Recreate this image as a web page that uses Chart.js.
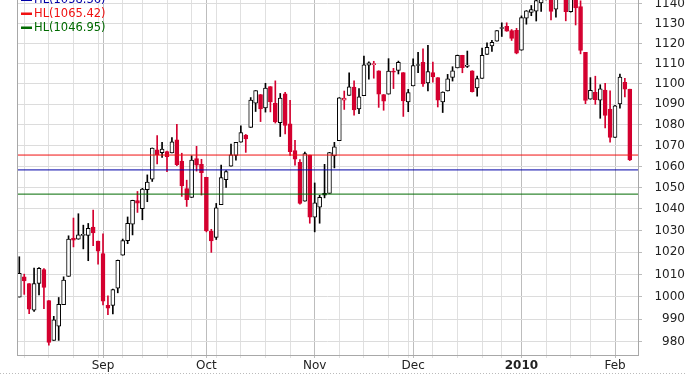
<!DOCTYPE html>
<html>
<head>
<meta charset="utf-8">
<script src="https://cdn.jsdelivr.net/npm/chart.js@4"></script>
<style>
  body { margin: 0; background: #fff; }
  canvas { display: block; }
</style>
</head>
<body>
<canvas id="chart" width="685" height="375"></canvas>
<script>
// daily candles, Aug 7 2009 .. Feb 4 2010
const dates = [
  '2009-08-07','2009-08-10','2009-08-11','2009-08-12','2009-08-13','2009-08-14',
  '2009-08-17','2009-08-18','2009-08-19','2009-08-20','2009-08-21',
  '2009-08-24','2009-08-25','2009-08-26','2009-08-27','2009-08-28','2009-08-31',
  '2009-09-01','2009-09-02','2009-09-03','2009-09-04',
  '2009-09-08','2009-09-09','2009-09-10','2009-09-11',
  '2009-09-14','2009-09-15','2009-09-16','2009-09-17','2009-09-18',
  '2009-09-21','2009-09-22','2009-09-23','2009-09-24','2009-09-25',
  '2009-09-28','2009-09-29','2009-09-30',
  '2009-10-01','2009-10-02',
  '2009-10-05','2009-10-06','2009-10-07','2009-10-08','2009-10-09',
  '2009-10-12','2009-10-13','2009-10-14','2009-10-15','2009-10-16',
  '2009-10-19','2009-10-20','2009-10-21','2009-10-22','2009-10-23',
  '2009-10-26','2009-10-27','2009-10-28','2009-10-29','2009-10-30',
  '2009-11-02','2009-11-03','2009-11-04','2009-11-05','2009-11-06',
  '2009-11-09','2009-11-10','2009-11-11','2009-11-12','2009-11-13',
  '2009-11-16','2009-11-17','2009-11-18','2009-11-19','2009-11-20',
  '2009-11-23','2009-11-24','2009-11-25','2009-11-27','2009-11-30',
  '2009-12-01','2009-12-02','2009-12-03','2009-12-04',
  '2009-12-07','2009-12-08','2009-12-09','2009-12-10','2009-12-11',
  '2009-12-14','2009-12-15','2009-12-16','2009-12-17','2009-12-18',
  '2009-12-21','2009-12-22','2009-12-23','2009-12-24',
  '2009-12-28','2009-12-29','2009-12-30','2009-12-31',
  '2010-01-04','2010-01-05','2010-01-06','2010-01-07','2010-01-08',
  '2010-01-11','2010-01-12','2010-01-13','2010-01-14','2010-01-15',
  '2010-01-19','2010-01-20','2010-01-21','2010-01-22',
  '2010-01-25','2010-01-26','2010-01-27','2010-01-28','2010-01-29',
  '2010-02-01','2010-02-02','2010-02-03','2010-02-04'
];

const opens = [
  999.8, 1008.9, 1005.8, 994.0, 1005.9, 1012.2, 998.2, 980.6, 986.9, 996.4, 1009.1, 1026.6, 1026.0, 1027.8, 1027.8, 1031.6, 1025.2,
  1019.5, 996.1, 996.1, 1003.8, 1018.7, 1025.4, 1033.0, 1043.9, 1040.2, 1049.0, 1054.0, 1067.9, 1066.6, 1067.1, 1066.4, 1072.7, 1062.6, 1049.5, 1045.4, 1063.7, 1061.0,
  1054.9, 1029.7, 1026.9, 1042.0, 1053.7, 1060.1, 1065.3, 1071.6, 1075.0, 1078.7, 1090.4, 1094.7, 1088.2, 1098.6, 1090.4, 1081.0, 1095.0, 1080.4, 1067.5, 1061.9, 1043.7, 1065.4,
  1036.2, 1040.9, 1047.3, 1047.3, 1065.0, 1072.3, 1091.9, 1094.2, 1098.3, 1087.6, 1094.1, 1109.2, 1109.4, 1106.4, 1094.7, 1094.9, 1105.8, 1106.5, 1105.5, 1091.1,
  1098.9, 1109.0, 1110.6, 1100.4, 1105.5, 1103.0, 1091.1, 1096.4, 1103.1, 1107.8, 1114.1, 1108.6, 1106.4, 1097.9, 1102.6, 1114.5, 1118.8, 1121.1, 1127.5, 1128.6, 1126.5, 1126.6,
  1116.6, 1132.7, 1135.7, 1136.3, 1140.5, 1146.0, 1143.8, 1137.3, 1145.7, 1147.7, 1136.0, 1148.0, 1138.7, 1115.5, 1092.4, 1095.8, 1091.9, 1096.9, 1087.6,
  1073.9, 1090.1, 1100.7, 1097.3
];
const highs = [
  1018.0, 1010.1, 1005.8, 1012.8, 1013.1, 1012.6, 998.2, 991.2, 999.6, 1008.9, 1027.6, 1035.8, 1037.8, 1032.5, 1033.3, 1039.5, 1025.2,
  1028.5, 1000.3, 1003.4, 1016.5, 1026.1, 1036.3, 1044.1, 1048.2, 1049.7, 1056.0, 1068.8, 1074.8, 1071.5, 1067.3, 1073.8, 1080.2, 1066.3, 1053.5, 1065.1, 1069.6, 1063.4,
  1054.9, 1030.6, 1042.6, 1060.6, 1058.0, 1070.7, 1071.5, 1079.5, 1075.3, 1093.2, 1096.6, 1094.7, 1100.2, 1098.6, 1101.4, 1095.2, 1095.8, 1091.8, 1072.5, 1063.3, 1066.8, 1065.4,
  1052.2, 1046.4, 1061.0, 1066.7, 1071.5, 1093.2, 1096.4, 1105.4, 1101.4, 1097.6, 1113.7, 1110.8, 1111.1, 1106.4, 1094.7, 1112.4, 1107.6, 1111.2, 1105.5, 1097.2,
  1112.3, 1115.6, 1117.3, 1119.1, 1110.7, 1103.0, 1096.0, 1104.6, 1108.4, 1114.2, 1114.1, 1116.2, 1106.4, 1103.7, 1117.7, 1120.3, 1121.6, 1126.5, 1130.4, 1130.4, 1127.0, 1127.6,
  1133.9, 1136.6, 1139.2, 1142.5, 1145.4, 1149.7, 1143.8, 1148.4, 1150.4, 1147.8, 1150.5, 1148.0, 1141.6, 1115.5, 1103.0, 1103.7, 1099.5, 1100.2, 1096.5,
  1089.4, 1104.7, 1102.7, 1097.3
];
const lows = [
  999.8, 1001.0, 992.4, 993.4, 1000.8, 994.6, 978.5, 980.6, 980.6, 996.4, 1009.1, 1022.5, 1026.0, 1021.6, 1016.2, 1023.1, 1014.6,
  996.3, 992.0, 992.3, 1001.7, 1018.7, 1024.0, 1028.0, 1038.4, 1035.0, 1043.4, 1052.9, 1061.2, 1064.3, 1057.5, 1066.4, 1060.4, 1045.9, 1041.2, 1045.4, 1057.8, 1046.5,
  1029.4, 1020.0, 1025.9, 1042.0, 1050.1, 1060.1, 1063.0, 1071.6, 1066.7, 1078.7, 1086.4, 1081.5, 1086.1, 1086.2, 1080.8, 1074.3, 1075.5, 1065.2, 1060.6, 1042.2, 1043.7, 1033.4,
  1029.4, 1033.4, 1045.2, 1047.3, 1059.3, 1072.3, 1087.4, 1094.2, 1084.6, 1085.3, 1094.1, 1102.2, 1102.7, 1088.4, 1087.0, 1094.9, 1097.6, 1104.8, 1084.0, 1086.3,
  1098.9, 1105.4, 1098.7, 1096.5, 1100.8, 1088.6, 1085.9, 1096.4, 1101.3, 1107.8, 1105.4, 1108.0, 1095.9, 1093.9, 1102.6, 1114.5, 1116.0, 1121.1, 1123.5, 1126.1, 1121.5, 1114.8,
  1116.6, 1129.7, 1134.0, 1131.3, 1136.2, 1142.0, 1131.8, 1133.2, 1143.8, 1131.4, 1135.8, 1129.3, 1114.8, 1090.2, 1092.4, 1089.9, 1083.1, 1078.5, 1071.6,
  1073.9, 1088.0, 1093.5, 1062.8
];
const closes = [
  1010.5, 1007.1, 994.4, 1005.8, 1012.7, 1004.1, 979.7, 989.7, 996.5, 1007.4, 1026.1, 1025.6, 1028.0, 1028.1, 1031.0, 1028.9, 1020.6,
  998.0, 994.8, 1003.2, 1016.4, 1025.4, 1033.4, 1044.1, 1042.7, 1049.3, 1052.6, 1068.8, 1065.5, 1068.3, 1064.7, 1071.7, 1060.9, 1050.8, 1044.4, 1063.0, 1060.6, 1057.1,
  1029.9, 1025.2, 1040.5, 1054.7, 1057.6, 1065.5, 1071.5, 1076.2, 1073.2, 1092.0, 1096.6, 1087.7, 1097.9, 1091.1, 1081.4, 1092.9, 1079.6, 1067.0, 1063.4, 1042.6, 1066.1, 1036.2,
  1042.9, 1045.4, 1046.5, 1066.6, 1069.3, 1093.1, 1093.0, 1098.5, 1087.2, 1093.5, 1109.3, 1110.3, 1109.8, 1094.9, 1091.4, 1106.2, 1105.7, 1110.6, 1091.5, 1095.6,
  1108.9, 1109.2, 1099.9, 1106.0, 1103.3, 1091.9, 1095.9, 1102.4, 1106.4, 1114.1, 1107.9, 1109.2, 1096.1, 1102.5, 1114.1, 1118.0, 1120.6, 1126.5, 1127.8, 1126.2, 1122.5, 1115.1,
  1133.0, 1136.5, 1137.1, 1141.7, 1145.0, 1147.0, 1136.2, 1145.7, 1148.5, 1136.0, 1150.2, 1138.0, 1116.5, 1091.8, 1096.8, 1092.2, 1097.5, 1084.5, 1073.9,
  1089.2, 1103.3, 1097.3, 1063.1
];

// horizontal lines (legend order)
const hlLevels = [1058.36, 1065.42, 1046.95];
const yTicks = [980, 990, 1000, 1010, 1020, 1030, 1040, 1050, 1060, 1070, 1080, 1090, 1100, 1110, 1120, 1130, 1140];
const monthNames = ['Jan','Feb','Mar','Apr','May','Jun','Jul','Aug','Sep','Oct','Nov','Dec'];

const hlColors = ['#0000a8', '#f01010', '#006a00'];
const RED = '#d4002f';
const FONT = '"DejaVu Sans", Verdana, sans-serif';

// week / month grid positions
const days = dates.map(d => new Date(d + 'T00:00:00Z'));
const gridIdx = [];
const monthLabel = {};
days.forEach((d, i) => {
  if (i === 0) return;
  const p = days[i - 1];
  const newMonth = d.getUTCMonth() !== p.getUTCMonth();
  const newWeek = d.getUTCDay() <= p.getUTCDay() || (d - p) > 4 * 864e5;
  if (newMonth) monthLabel[i] = d.getUTCMonth() === 0 ? String(d.getUTCFullYear()) : monthNames[d.getUTCMonth()];
  if (newMonth || newWeek) gridIdx.push(i);
});

// stockcharts style colouring: red when close below previous close, filled when close below open
const lineCol = closes.map((c, i) => (c < (i ? closes[i - 1] : opens[i]) ? RED : '#000'));
const fillCol = closes.map((c, i) => (c < opens[i] ? lineCol[i] : '#fff'));

const xMin = -0.47, xMax = 125.67;

const hlDatasets = hlLevels.map((v, k) => ({
  type: 'line',
  data: [{ x: xMin, y: v }, { x: xMax, y: v }],
  borderColor: hlColors[k],
  borderWidth: 1,
  pointRadius: 0,
  order: -1
}));

const hlLegend = {
  id: 'hlLegend',
  afterDraw(chart) {
    const ctx = chart.ctx;
    const a = chart.chartArea;
    ctx.save();
    // plot frame
    ctx.strokeStyle = '#a8a8a8';
    ctx.lineWidth = 1;
    ctx.beginPath();
    ctx.moveTo(a.left + 0.5, a.top);
    ctx.lineTo(a.left + 0.5, a.bottom);
    ctx.stroke();
    // dotted separator under axis
    ctx.setLineDash([1, 2]);
    ctx.strokeStyle = '#bbb';
    ctx.beginPath();
    ctx.moveTo(0, 373.5);
    ctx.lineTo(chart.width, 373.5);
    ctx.stroke();
    ctx.setLineDash([]);
    // legend
    ctx.font = '11.5px ' + FONT;
    ctx.textBaseline = 'middle';
    hlLevels.forEach((v, k) => {
      const y = -0.5 + k * 14;
      ctx.fillStyle = hlColors[k];
      ctx.fillRect(21, y - 1, 11, 2.5);
      ctx.fillText('HL(' + v.toFixed(2) + ')', 34, y + 0.5);
    });
    ctx.restore();
  }
};

new Chart(document.getElementById('chart'), {
  type: 'bar',
  data: {
    datasets: [
      ...hlDatasets,
      {
        data: dates.map((d, i) => ({ x: i, y: [opens[i], closes[i]] })),
        backgroundColor: fillCol,
        borderColor: lineCol,
        borderWidth: 1,
        borderSkipped: false,
        barThickness: 4,
        minBarLength: 1,
        grouped: false,
        clip: 0,
        order: 0
      },
      {
        data: dates.map((d, i) => ({ x: i, y: [lows[i], highs[i]] })),
        backgroundColor: lineCol,
        borderWidth: 0,
        barThickness: 1,
        grouped: false,
        clip: 0,
        order: 1
      }
    ]
  },
  options: {
    responsive: false,
    animation: false,
    layout: { padding: { left: 17, top: 0, right: 0, bottom: 0 } },
    plugins: {
      legend: { display: false },
      tooltip: { enabled: false }
    },
    scales: {
      x: {
        type: 'linear',
        offset: false,
        min: xMin,
        max: xMax,
        afterBuildTicks: s => { s.ticks = gridIdx.map(v => ({ value: v })); },
        afterFit: s => { s.height = 20; s.paddingLeft = 0; s.paddingRight = 0; },
        grid: {
          offset: false,
          color: c => (c.tick && monthLabel[c.tick.value] ? '#bdbdbd' : '#e0e0e0'),
          tickLength: 3
        },
        border: { color: '#a8a8a8' },
        ticks: {
          autoSkip: false,
          maxRotation: 0,
          padding: 1,
          color: '#222',
          callback: v => monthLabel[v] || '',
          font: c => ({ family: FONT, size: 12, weight: c.tick && /^\d+$/.test(monthLabel[c.tick.value] || '') ? 'bold' : 'normal' })
        }
      },
      y: {
        type: 'logarithmic',
        position: 'right',
        min: 974.2,
        max: 1142,
        afterBuildTicks: s => { s.ticks = yTicks.map(v => ({ value: v })); },
        afterFit: s => { s.width = 47; s.paddingTop = 0; s.paddingBottom = 0; },
        grid: { color: '#dcdcdc', tickLength: 4, tickColor: '#bbb' },
        border: { color: '#a8a8a8' },
        ticks: {
          padding: 3,
          crossAlign: 'far',
          color: '#222',
          font: { family: FONT, size: 12 },
          callback: v => String(v)
        }
      }
    }
  },
  plugins: [hlLegend]
});
</script>
</body>
</html>
